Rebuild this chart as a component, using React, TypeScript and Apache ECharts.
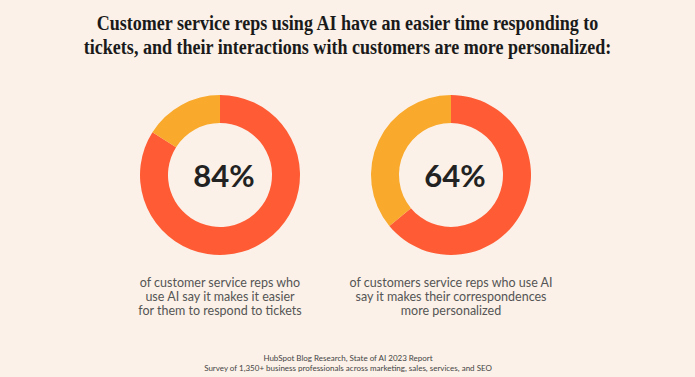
import React, { useEffect, useRef } from "react";
import * as echarts from "echarts";

const titleLines = [
  "Customer service reps using AI have an easier time responding to",
  "tickets, and their interactions with customers are more personalized:",
];
const percents = [84, 64];
const descriptions = [
  ["of customer service reps who", "use AI say it makes it easier", "for them to respond to tickets"],
  ["of customers service reps who use AI", "say it makes their correspondences", "more personalized"],
];
const footerLines = [
  "HubSpot Blog Research, State of AI 2023 Report",
  "Survey of 1,350+ business professionals across marketing, sales, services, and SEO",
];

const ORANGE = "#FF5C35";
const YELLOW = "#F9A92B";
const BG = "#FBF1E8";

export default function App() {
  const ref = useRef<HTMLDivElement>(null);
  useEffect(() => {
    if (!ref.current) return;
    const chart = echarts.init(ref.current, undefined, { renderer: "svg" });
    const centers = [
      [220, 175],
      [451, 175],
    ];
    const series = percents.map((p, i) => ({
      type: "pie",
      center: centers[i],
      radius: [52, 80],
      startAngle: 90,
      clockwise: true,
      silent: true,
      label: { show: false },
      labelLine: { show: false },
      data: [
        {
          value: p,
          itemStyle: { color: ORANGE },
          label: {
            show: true,
            position: "center",
            formatter: `${p}%`,
            fontSize: 31,
            fontFamily: "Lato",
            fontWeight: "bold",
            color: "#222222",
            offset: [4, 0],
          },
        },
        { value: 100 - p, itemStyle: { color: YELLOW } },
      ],
    }));
    const graphics: any[] = [];
    titleLines.forEach((t, i) => {
      graphics.push({
        type: "text",
        x: 347.5,
        y: 22 + i * 24,
        scaleX: 0.82,
        style: {
          text: t,
          x: 0,
          y: 0,
          fill: "#1a1a1a",
          font: "bold 22px 'Liberation Serif'",
          textAlign: "center",
          textVerticalAlign: "middle",
        },
      });
    });
    descriptions.forEach((lines, i) => {
      graphics.push({
        type: "text",
        x: centers[i][0],
        y: 296,
        style: {
          text: lines.join("\n"),
          fill: "#555555",
          font: "12.5px Lato",
          lineHeight: 14,
          textAlign: "center",
          textVerticalAlign: "middle",
        },
      });
    });
    footerLines.forEach((l, j) => {
      graphics.push({
        type: "text",
        x: 348,
        y: 358 + j * 9.5,
        style: {
          text: l,
          fill: "#444444",
          font: "8px Lato",
          textAlign: "center",
          textVerticalAlign: "middle",
        },
      });
    });
    chart.setOption({
      animation: false,
      backgroundColor: BG,
      series,
      graphic: graphics,
    });
    return () => chart.dispose();
  }, []);
  return (
    <div
      ref={ref}
      style={{ position: "fixed", left: 0, top: 0, width: 695, height: 377 }}
    />
  );
}
